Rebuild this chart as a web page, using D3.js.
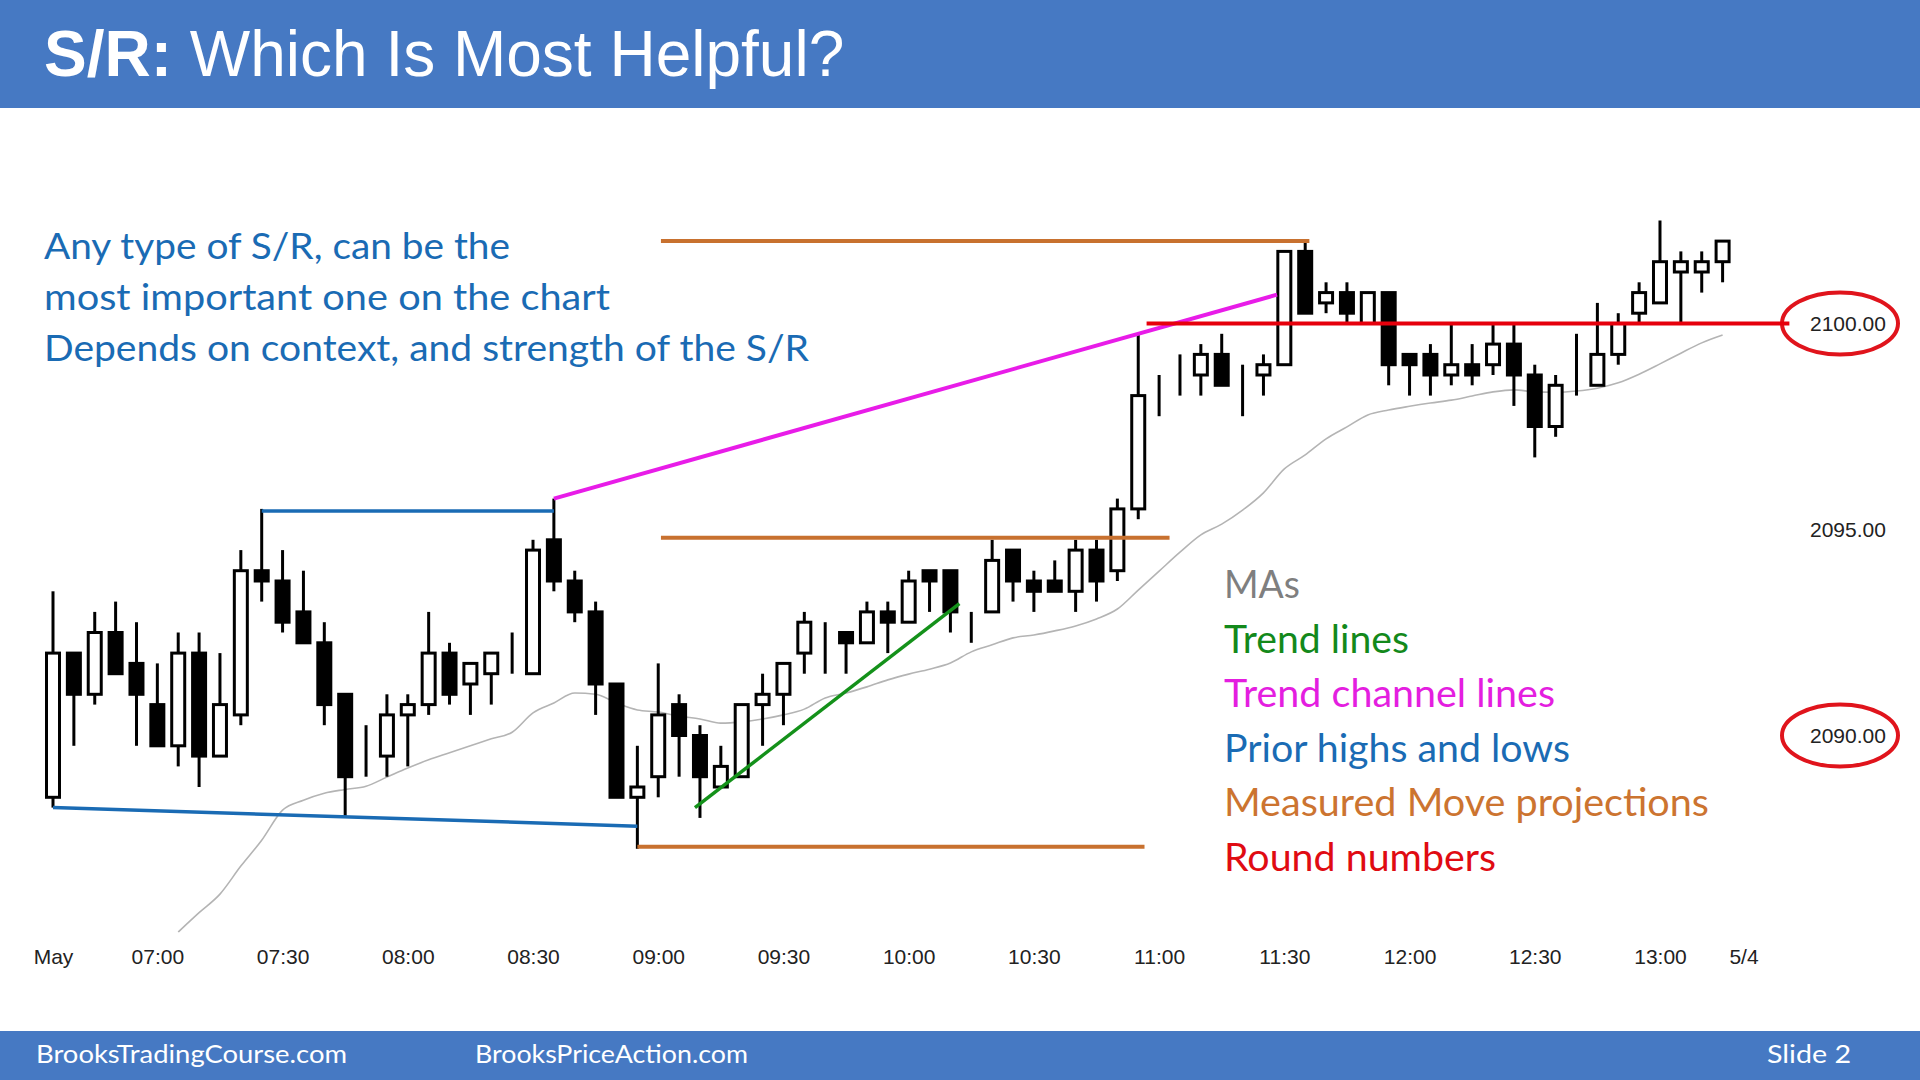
<!DOCTYPE html>
<html>
<head>
<meta charset="utf-8">
<script src="https://cdn.jsdelivr.net/npm/d3@7"></script>
<style>
body{margin:0;background:#fff;}
svg{display:block;}
.axis text{font-family:"Liberation Sans",Arial,sans-serif;font-size:21px;fill:#222;}
</style>
</head>
<body>
<div id="chart"></div>
<script>
// 5 minute bars, first bar 06:35
var opens = [2088.5,2092,2091,2092.5,2091.75,2090.75,2089.75,2092,2089.5,2090.5,
2094,2093.75,2093,2092.25,2091,2089.25,2089.5,2090.5,2090.75,2092,
2091.25,2091.5,2091.75,2091.5,2094.75,2093.75,2093,2091.25,2088.5,2089,
2090.75,2090,2088.75,2089,2090.75,2091,2092,2092.5,2092.5,2092.25,
2093,2092.75,2094,2094,2092.75,2093,2094.5,2093.75,2093.75,2093.5,
2094.5,2094,2095.5,2098.5,2098.5,2098.75,2099.25,2098.75,2098.75,2099,
2101.75,2100.5,2100.75,2100,2100.75,2099.25,2099.25,2098.75,2099,2099,
2099.5,2098.75,2097.5,2098.5,2098.5,2099.25,2100.25,2100.5,2101.25,2101.25,
2101.5];
var highs = [2093.5,2092,2093,2093.25,2092.75,2091.75,2092.5,2092.5,2092,2094.5,
2095.5,2094.5,2094,2092.75,2091,2090.25,2091,2091,2093,2092.25,
2091.75,2092,2092.5,2094.75,2095.75,2094,2093.25,2091.25,2089.75,2091.75,
2091,2090.25,2089.75,2090.75,2091.5,2091.75,2093,2092.75,2092.5,2093.25,
2093.25,2094,2094,2094,2093,2094.75,2094.5,2094,2094.25,2094.75,
2094.75,2095.75,2099.75,2098.75,2099.25,2099.5,2099.75,2099,2099.25,2101.75,
2102,2101,2101,2100.75,2100.75,2099.25,2099.5,2100,2099.5,2100,
2100,2099,2098.75,2099.75,2100.5,2100.25,2101,2102.5,2101.75,2101.75,
2102];
var lows = [2088.25,2089.75,2090.75,2091.5,2089.75,2089.75,2089.25,2088.75,2089.5,2090.25,
2093.25,2092.5,2092.25,2090.25,2088,2089,2089,2089.25,2090.5,2090.75,
2090.5,2090.75,2091.5,2091.5,2093.5,2092.75,2090.5,2088.5,2087.25,2088.5,
2089,2088,2088.75,2089,2089.75,2090.25,2091.5,2091.5,2091.5,2092.25,
2092,2092.75,2093,2092.5,2092.25,2093,2093.25,2093,2093.5,2093,
2093.25,2093.75,2095.25,2097.75,2098.25,2098.25,2098.5,2097.75,2098.25,2099,
2100.25,2100.25,2100,2100,2098.5,2098.25,2098.25,2098.5,2098.5,2098.75,
2098,2096.75,2097.25,2098.25,2098.5,2099,2100,2100.5,2100,2100.75,
2101];
var closes = [2092,2091,2092.5,2091.5,2091,2089.75,2092,2089.5,2090.75,2094,
2093.75,2092.75,2092.25,2090.75,2089,2089.25,2090.5,2090.75,2092,2091,
2091.75,2092,2091.75,2094.5,2093.75,2093,2091.25,2088.5,2088.75,2090.5,
2090,2089,2089.25,2090.75,2091,2091.75,2092.75,2092.5,2092.25,2093,
2092.75,2093.75,2093.75,2093,2092.75,2094.25,2093.75,2093.5,2093.5,2094.5,
2093.75,2095.5,2098.25,2098.5,2098.5,2099.25,2098.5,2098.75,2099,2101.75,
2100.25,2100.75,2100.25,2100.75,2099,2099,2098.75,2099,2098.75,2099.5,
2098.75,2097.5,2098.5,2098.5,2099.25,2100,2100.75,2101.5,2101.5,2101.5,
2102];

// moving average, starts at bar 6
var maStart = 6;
var maValues = [2085.23,2085.70,2086.15,2086.83,2087.46,2088.19,2088.43,2088.60,2088.69,2088.77,
2088.99,2089.21,2089.41,2089.58,2089.75,2089.92,2090.08,2090.55,2090.79,2091.03,
2091.00,2090.79,2090.62,2090.57,2090.47,2090.40,2090.30,2090.33,2090.40,2090.50,
2090.64,2090.91,2091.03,2091.18,2091.35,2091.49,2091.61,2091.76,2092.03,2092.20,
2092.37,2092.44,2092.54,2092.66,2092.83,2093.07,2093.53,2093.99,2094.45,2094.87,
2095.13,2095.47,2095.89,2096.47,2096.81,2097.20,2097.49,2097.78,2097.90,2097.99,
2098.07,2098.14,2098.24,2098.34,2098.39,2098.34,2098.33,2098.36,2098.43,2098.56,
2098.77,2099.02,2099.28,2099.53,2099.72];

var timeTickIndex = [0,5,11,17,23,29,35,41,47,53,59,65,71,77,81];
var timeTickLabels = ['May','07:00','07:30','08:00','08:30','09:00','09:30','10:00','10:30','11:00','11:30','12:00','12:30','13:00','5/4'];
var priceTicks = [2090, 2095, 2100];
var circledPrices = [2100, 2090];

// drawn S/R lines, [bar index, price]
var priorHighLows = [[[10, 2095.45], [24, 2095.45]], [[0, 2088.25], [28, 2087.8]]];
var trendLines = [[[30.76, 2088.25], [43.43, 2093.2]]];
var channelLines = [[[24, 2095.75], [58.65, 2100.7]]];
var measuredMoves = [[[28, 2087.3], [52.3, 2087.3]], [[29.13, 2094.8], [53.5, 2094.8]], [[29.13, 2102], [60.2, 2102]]];
var roundNumbers = [[[52.4, 2100], [83.2, 2100]]];

var notes = ['Any type of S/R, can be the', 'most important one on the chart', 'Depends on context, and strength of the S/R'];
var noteWidths = [466, 566, 765];
var legendItems = ['MAs', 'Trend lines', 'Trend channel lines', 'Prior highs and lows', 'Measured Move projections', 'Round numbers'];
var legendColors = ['#7f7f7f', '#13891b', '#e41ee0', '#1a6bb4', '#cc7430', '#e00b12'];
var legendWidths = [76, 185, 331, 346, 485, 272];

var width = 1920, height = 1080;
var svg = d3.select('#chart')
    .append('svg')
    .attr('width', width)
    .attr('height', height);

svg.append('rect').attr('width', width).attr('height', height).attr('fill', '#fff');

var x = d3.scaleLinear().domain([0, 80]).range([53, 1722.6]);
var y = d3.scaleLinear().domain([2090, 2100]).range([735.5, 323.5]);

// header + footer
svg.append('rect').attr('x', 0).attr('y', 0).attr('width', width).attr('height', 108).attr('fill', '#4679c3');
svg.append('rect').attr('x', 0).attr('y', 1031).attr('width', width).attr('height', 49).attr('fill', '#4679c3');

var title = svg.append('text')
    .attr('x', 44)
    .attr('y', 76)
    .style('font-family', '"Liberation Sans", Arial, sans-serif')
    .style('font-size', '64px')
    .style('fill', '#fff');
title.append('tspan').style('font-weight', 'bold').text('S/R:');
title.append('tspan').text(' Which Is Most Helpful?');

var footer = [['BrooksTradingCourse.com', 36, 311], ['BrooksPriceAction.com', 475, 273], ['Slide  2', 1767, 84]];
svg.selectAll('.footer')
    .data(footer)
    .enter()
    .append('text')
    .attr('class', 'footer')
    .attr('x', function(d){ return d[1]; })
    .attr('y', 1063)
    .attr('textLength', function(d){ return d[2]; })
    .attr('lengthAdjust', 'spacingAndGlyphs')
    .style('font-family', 'Lato, "Open Sans", sans-serif')
    .style('font-size', '25px')
    .style('fill', '#fff')
    .text(function(d){ return d[0]; });

// axes
var xAxis = d3.axisBottom(x)
    .tickValues(timeTickIndex)
    .tickFormat(function(d, i){ return timeTickLabels[i]; })
    .tickSize(0)
    .tickPadding(0);
var gx = svg.append('g')
    .attr('class', 'axis')
    .attr('transform', 'translate(0,' + 949 + ')')
    .call(xAxis);
gx.select('.domain').remove();

var yAxis = d3.axisRight(y)
    .tickValues(priceTicks)
    .tickFormat(d3.format('.2f'))
    .tickSize(0)
    .tickPadding(0);
var gy = svg.append('g')
    .attr('class', 'axis')
    .attr('transform', 'translate(1810,0)')
    .call(yAxis);
gy.select('.domain').remove();

svg.selectAll('.circled')
    .data(circledPrices)
    .enter()
    .append('ellipse')
    .attr('class', 'circled')
    .attr('cx', 1840)
    .attr('cy', function(d){ return y(d); })
    .attr('rx', 58)
    .attr('ry', 31)
    .attr('fill', 'none')
    .attr('stroke', '#e0141c')
    .attr('stroke-width', 4);

// moving average
var maLine = d3.line()
    .x(function(d, i){ return x(maStart + i); })
    .y(function(d){ return y(d); })
    .curve(d3.curveMonotoneX);
svg.append('path')
    .attr('d', maLine(maValues))
    .attr('fill', 'none')
    .attr('stroke', '#b4b4b4')
    .attr('stroke-width', 1.6);

// candles
var bars = d3.range(opens.length).map(function(i){
    return {i: i, o: opens[i], h: highs[i], l: lows[i], c: closes[i]};
});
var bodyW = 13;
var candle = svg.selectAll('.candle')
    .data(bars)
    .enter()
    .append('g')
    .attr('class', 'candle');
candle.append('line')
    .attr('x1', function(d){ return x(d.i); })
    .attr('x2', function(d){ return x(d.i); })
    .attr('y1', function(d){ return y(d.h); })
    .attr('y2', function(d){ return y(d.l); })
    .attr('stroke', '#000')
    .attr('stroke-width', 3);
candle.append('rect')
    .attr('x', function(d){ return x(d.i) - bodyW / 2; })
    .attr('y', function(d){ return y(Math.max(d.o, d.c)); })
    .attr('width', bodyW)
    .attr('height', function(d){ return Math.abs(y(d.o) - y(d.c)); })
    .attr('fill', function(d){ return d.c < d.o ? '#000' : '#fff'; })
    .attr('stroke', '#000')
    .attr('stroke-width', 3);

// S/R lines
var seg = d3.line()
    .x(function(d){ return x(d[0]); })
    .y(function(d){ return y(d[1]); });
function drawLines(list, color, w){
    svg.selectAll(null)
        .data(list)
        .enter()
        .append('path')
        .attr('d', function(d){ return seg(d); })
        .attr('fill', 'none')
        .attr('stroke', color)
        .attr('stroke-width', w);
}
drawLines(priorHighLows, '#1a6bb4', 3.5);
drawLines(measuredMoves, '#c8712f', 4);
drawLines(channelLines, '#e81ce8', 4);
drawLines(trendLines, '#14911a', 3.5);
drawLines(roundNumbers, '#e6000c', 4);

// text notes
svg.selectAll('.note')
    .data(notes)
    .enter()
    .append('text')
    .attr('class', 'note')
    .attr('x', 44)
    .attr('y', function(d, i){ return 259 + i * 51; })
    .attr('textLength', function(d, i){ return noteWidths[i]; })
    .attr('lengthAdjust', 'spacingAndGlyphs')
    .style('font-family', 'Lato, "Open Sans", sans-serif')
    .style('font-size', '36px')
    .style('fill', '#1a6bb4')
    .text(function(d){ return d; });

svg.selectAll('.legend')
    .data(legendItems)
    .enter()
    .append('text')
    .attr('class', 'legend')
    .attr('x', 1224)
    .attr('y', function(d, i){ return 598 + i * 54.6; })
    .attr('textLength', function(d, i){ return legendWidths[i]; })
    .attr('lengthAdjust', 'spacingAndGlyphs')
    .style('font-family', 'Lato, "Open Sans", sans-serif')
    .style('font-size', '38px')
    .style('fill', function(d, i){ return legendColors[i]; })
    .text(function(d){ return d; });
</script>
</body>
</html>
